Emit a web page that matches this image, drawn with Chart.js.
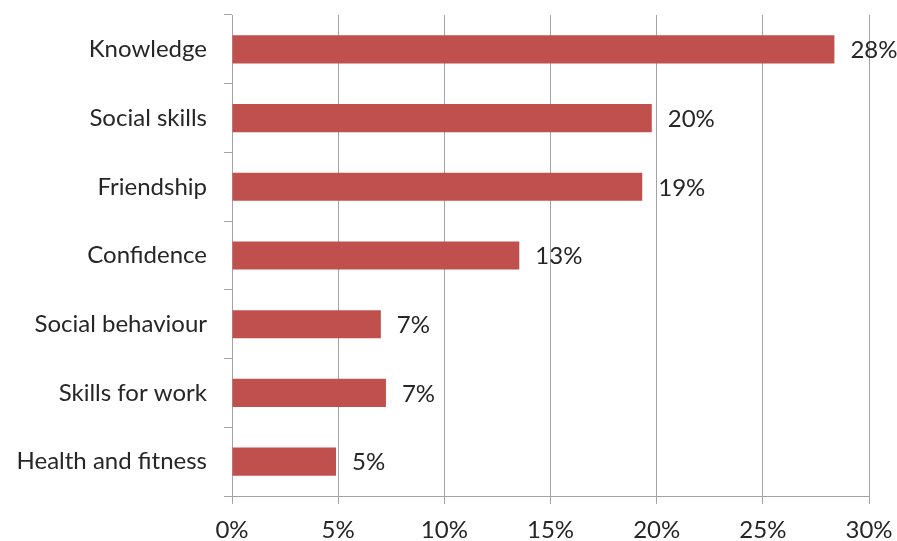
<!DOCTYPE html>
<html>
<head>
<meta charset="utf-8">
<script src="https://cdn.jsdelivr.net/npm/chart.js@4.4.1/dist/chart.umd.min.js"></script>
<style>
    body { margin: 0; background: #fff; }
    #wrap { width: 897px; height: 541px; position: relative; }
</style>
</head>
<body>
<div id="wrap"><canvas id="benefitsChart"></canvas></div>
<script>
// Chart data
const categories = ['Knowledge', 'Social skills', 'Friendship', 'Confidence', 'Social behaviour', 'Skills for work', 'Health and fitness'];
const shares = [28.37, 19.77, 19.32, 13.53, 7.01, 7.25, 4.9];
const shareLabels = ['28%', '20%', '19%', '13%', '7%', '7%', '5%'];
const xTicks = [0, 5, 10, 15, 20, 25, 30];

const gridColor = '#a3a3a3';
const textColor = '#262626';
const labelFont = { family: 'Lato', size: 24 };

// Draws the value text to the right of each bar
const barValueLabels = {
    id: 'barValueLabels',
    afterDatasetsDraw(chart) {
        const ctx = chart.ctx;
        const meta = chart.getDatasetMeta(0);
        ctx.save();
        ctx.font = `${labelFont.size}px ${labelFont.family}`;
        ctx.fillStyle = textColor;
        ctx.textAlign = 'left';
        ctx.textBaseline = 'middle';
        meta.data.forEach((bar, i) => {
            ctx.fillText(shareLabels[i], bar.x + 16, bar.y + 1);
        });
        ctx.restore();
    }
};

document.addEventListener('DOMContentLoaded', function() {
    const ctx = document.getElementById('benefitsChart');

    new Chart(ctx, {
        type: 'bar',
        data: {
            labels: categories,
            datasets: [{
                data: shares,
                backgroundColor: '#c0504d',
                borderWidth: 0,
                barPercentage: 0.41,
                categoryPercentage: 1
            }]
        },
        options: {
            indexAxis: 'y',
            responsive: true,
            maintainAspectRatio: false,
            animation: false,
            layout: {
                padding: { top: 15, right: 28, left: 0, bottom: 0 }
            },
            plugins: {
                legend: { display: false },
                tooltip: { enabled: false }
            },
            scales: {
                x: {
                    min: 0,
                    max: 30,
                    afterBuildTicks: scale => {
                        scale.ticks = xTicks.map(v => ({ value: v }));
                    },
                    afterFit: scale => {
                        scale.height = 45;
                        scale.paddingLeft = 0;
                        scale.paddingRight = 0;
                    },
                    grid: {
                        color: gridColor,
                        lineWidth: 1,
                        tickLength: 8
                    },
                    border: { color: gridColor },
                    ticks: {
                        color: textColor,
                        font: labelFont,
                        padding: 12,
                        maxRotation: 0,
                        callback: value => `${value}%`
                    }
                },
                y: {
                    afterFit: scale => {
                        scale.width = 232;
                        scale.paddingTop = 0;
                        scale.paddingBottom = 0;
                    },
                    grid: {
                        color: gridColor,
                        drawOnChartArea: false,
                        offset: true,
                        tickLength: 8
                    },
                    border: { color: gridColor },
                    ticks: {
                        color: textColor,
                        font: labelFont,
                        padding: 17
                    }
                }
            }
        },
        plugins: [barValueLabels]
    });
});
</script>
</body>
</html>
